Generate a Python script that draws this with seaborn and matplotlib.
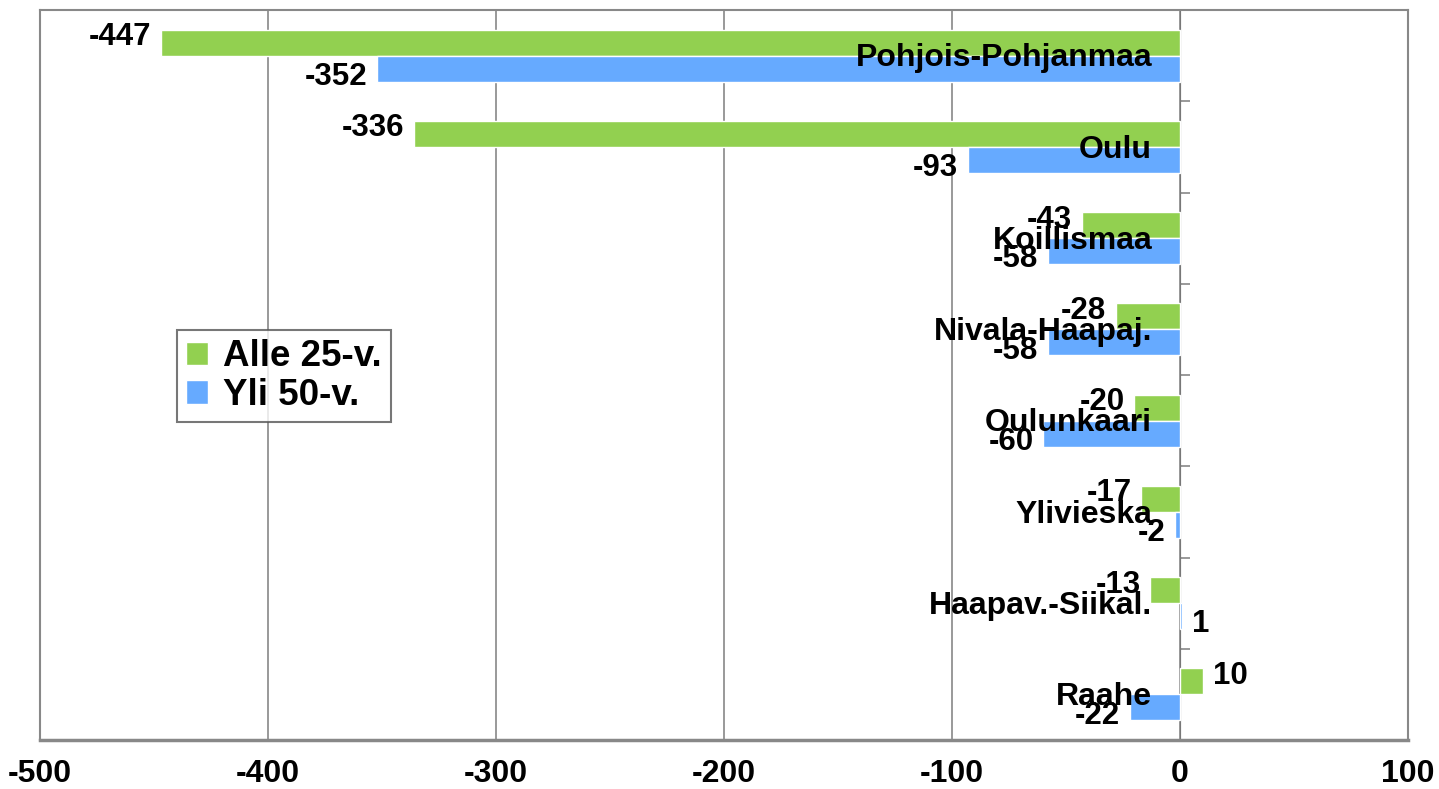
import matplotlib
matplotlib.use("Agg")
import matplotlib.pyplot as plt
import numpy as np
import pandas as pd
import seaborn as sns

regions = ["Pohjois-Pohjanmaa", "Oulu", "Koillismaa", "Nivala-Haapaj.",
           "Oulunkaari", "Ylivieska", "Haapav.-Siikal.", "Raahe"]
alle25 = [-447, -336, -43, -28, -20, -17, -13, 10]
yli50 = [-352, -93, -58, -58, -60, -2, 1, -22]
series = ["Alle 25-v.", "Yli 50-v."]
colors = ["#92D050", "#66AAFF"]

df = pd.DataFrame({
    "region": regions * 2,
    "value": alle25 + yli50,
    "group": [series[0]] * len(regions) + [series[1]] * len(regions),
})

sns.set_style("white")
plt.rcParams["font.family"] = ["Liberation Sans", "DejaVu Sans"]
plt.rcParams["font.weight"] = "bold"
plt.rcParams["axes.unicode_minus"] = False
plt.rcParams["text.color"] = "black"
plt.rcParams["xtick.labelcolor"] = "black"

fig = plt.figure(figsize=(14.39, 7.89), dpi=100)
ax = fig.add_axes([40 / 1439, 49 / 789, 1368 / 1439, 730 / 789])

sns.barplot(data=df, x="value", y="region", hue="group", order=regions,
            hue_order=series, palette=colors, orient="h", width=0.57,
            saturation=1, ax=ax, zorder=3)

ax.set_xlim(-500, 100)
ax.set_ylim(len(regions) - 0.5, -0.5)
ax.set_xticks(np.arange(-500, 101, 100))
ax.tick_params(axis="x", labelsize=23, length=7, color="#888888",
               labelcolor="black", direction="out", pad=7)
for lab in ax.get_xticklabels():
    lab.set_fontweight("bold")
ax.set_yticks([])
ax.set_xlabel("")
ax.set_ylabel("")
ax.grid(axis="x", color="#888888", linewidth=1.2, zorder=0)
ax.set_axisbelow(True)
for sp in ax.spines.values():
    sp.set_color("#888888")
    sp.set_linewidth(1.5)
ax.spines["bottom"].set_linewidth(2.5)

# vertical axis at zero with boundary ticks
sec = ax.secondary_yaxis(500 / 600)
sec.set_yticks(np.arange(-0.5, len(regions), 1.0))
sec.set_yticklabels([])
sec.tick_params(axis="y", direction="out", length=7, color="#888888", width=1.2)
sec.spines["left"].set_color("#888888")
sec.spines["left"].set_linewidth(1.5)

# category labels next to zero
for i, name in enumerate(regions):
    ax.annotate(name, xy=(0, i), xytext=(-20, -2), textcoords="offset points",
                ha="right", va="center", fontsize=23, fontweight="bold",
                color="black", zorder=5)

# value labels
for k, vals in enumerate([alle25, yli50]):
    dy = 4 if k == 0 else -6
    yoff = -0.1425 if k == 0 else 0.1425
    for i, v in enumerate(vals):
        dx = -7 if v < 0 else 7
        ax.annotate(f"{v}", xy=(v, i + yoff), xytext=(dx, dy),
                    textcoords="offset points",
                    ha="right" if v < 0 else "left", va="center",
                    fontsize=22.5, fontweight="bold", color="black", zorder=6)

leg = ax.legend(loc="upper left", bbox_to_anchor=(137 / 1368, (740 - 330) / 730),
                borderaxespad=0, fontsize=26.5, frameon=True, fancybox=False,
                handlelength=0.6, handleheight=0.6, handletextpad=0.4,
                borderpad=0.25, labelspacing=0.1)
leg.get_frame().set_edgecolor("#555555")
leg.get_frame().set_linewidth(1.5)
for t in leg.get_texts():
    t.set_fontweight("bold")
    t.set_color("black")

fig.savefig("out.png", dpi=100)
plt.close(fig)
